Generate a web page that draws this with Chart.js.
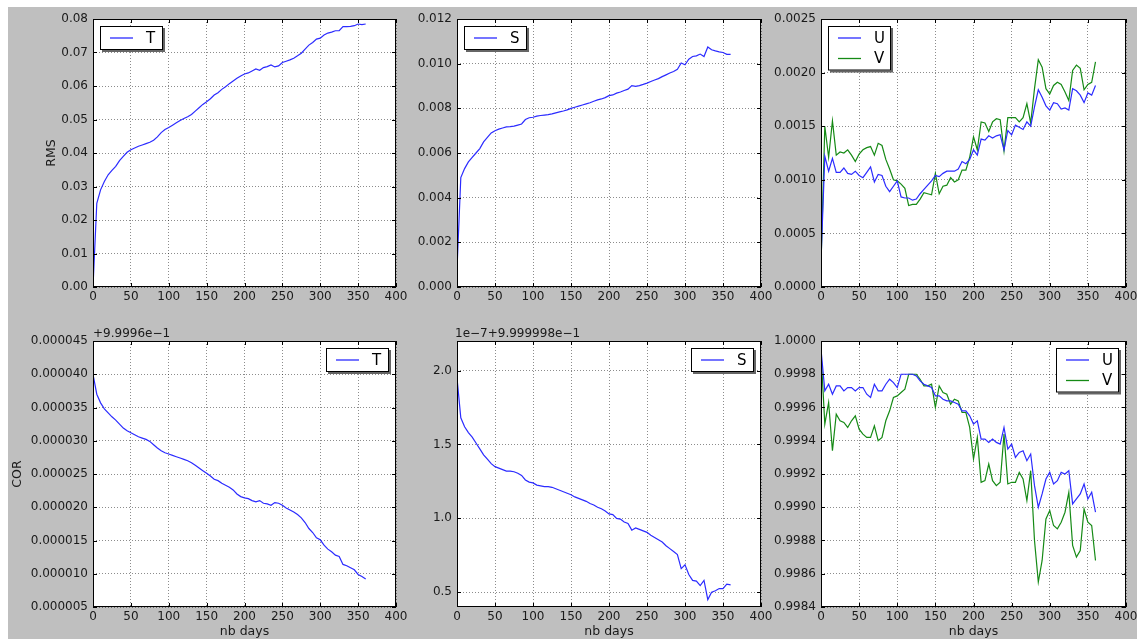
<!DOCTYPE html>
<html>
<head>
<meta charset="utf-8">
<script src="https://cdn.jsdelivr.net/npm/chart.js@4.4.1/dist/chart.umd.min.js"></script>
<style>
html, body { margin: 0; padding: 0; background: #fff; overflow: hidden; width: 1137px; height: 639px; }
#bg { position: absolute; left: 8px; top: 7px; width: 1129px; height: 632px; background: #bfbfbf; }
canvas { position: absolute; }
</style>
</head>
<body>
<div id="bg"></div>
<canvas id="p1"></canvas>
<canvas id="p2"></canvas>
<canvas id="p3"></canvas>
<canvas id="p4"></canvas>
<canvas id="p5"></canvas>
<canvas id="p6"></canvas>
<script>
// jours (un point tous les 5 jours)
const days = [0, 5, 10, 15, 20, 25, 30, 35, 40, 45, 50, 55, 60, 65, 70, 75, 80, 85, 90, 95,
  100, 105, 110, 115, 120, 125, 130, 135, 140, 145, 150, 155, 160, 165, 170, 175, 180, 185, 190, 195,
  200, 205, 210, 215, 220, 225, 230, 235, 240, 245, 250, 255, 260, 265, 270, 275, 280, 285, 290, 295,
  300, 305, 310, 315, 320, 325, 330, 335, 340, 345, 350, 355, 360];

// RMS
const rmsT = [0, 0.025, 0.029, 0.0315, 0.0335, 0.0348, 0.036, 0.0377, 0.039, 0.0402,
  0.041, 0.0415, 0.042, 0.0424, 0.0428, 0.0432, 0.0438, 0.0448, 0.0461, 0.047,
  0.0476, 0.0483, 0.049, 0.0497, 0.0503, 0.0508, 0.0515, 0.0525, 0.0535, 0.0545,
  0.0553, 0.0562, 0.0573, 0.058, 0.059, 0.0598, 0.0607, 0.0615, 0.0623, 0.063,
  0.0636, 0.0639, 0.0645, 0.0651, 0.0647, 0.0655, 0.0658, 0.0663, 0.0657, 0.066,
  0.067, 0.0674, 0.0678, 0.0683, 0.069, 0.0698, 0.071, 0.0722, 0.073, 0.074,
  0.0743, 0.0752, 0.0758, 0.0761, 0.0765, 0.0765, 0.0777, 0.0777, 0.0778, 0.078,
  0.0785, 0.0783, 0.0785];
const rmsS = [0.0008, 0.0049, 0.0053, 0.0056, 0.0058, 0.0060, 0.0062, 0.0065, 0.0067, 0.0069,
  0.00700, 0.00707, 0.00712, 0.00717, 0.00718, 0.00720, 0.00725, 0.00730, 0.00750, 0.00758,
  0.00760, 0.00765, 0.00768, 0.00770, 0.00772, 0.00775, 0.00780, 0.00784, 0.00788, 0.00793,
  0.00800, 0.00805, 0.00810, 0.00815, 0.00820, 0.00825, 0.00832, 0.00838, 0.00842, 0.00848,
  0.00857, 0.00860, 0.00868, 0.00873, 0.00880, 0.00886, 0.00902, 0.00898, 0.00902, 0.00907,
  0.00913, 0.00920, 0.00927, 0.00933, 0.00942, 0.00950, 0.00958, 0.00965, 0.00975, 0.01003,
  0.00995, 0.01020, 0.01032, 0.01035, 0.01043, 0.01032, 0.01075, 0.01062, 0.01057, 0.01053,
  0.01050, 0.01042, 0.01042];
const rmsU = [0.00025, 0.00122, 0.00108, 0.00120, 0.00107, 0.00107, 0.00111, 0.00106, 0.00105, 0.00108,
  0.00104, 0.00102, 0.00107, 0.00112, 0.00098, 0.00105, 0.00104, 0.00094, 0.00089, 0.00094,
  0.00099, 0.00084, 0.00083, 0.00083, 0.00081, 0.00082, 0.00087, 0.00091, 0.00095, 0.00099,
  0.00104, 0.00103, 0.00106, 0.00108, 0.00108, 0.00108, 0.00110, 0.00117, 0.00115, 0.00119,
  0.00128, 0.00123, 0.00138, 0.00137, 0.00141, 0.00139, 0.00141, 0.00142, 0.00128, 0.00146,
  0.00142, 0.00151, 0.00149, 0.00147, 0.00154, 0.00150, 0.00168, 0.00184, 0.00177, 0.00169,
  0.00165, 0.00172, 0.00171, 0.00166, 0.00167, 0.00165, 0.00185, 0.00183, 0.00179, 0.00172,
  0.00181, 0.00179, 0.00188];
const rmsV = [0.00020, 0.00150, 0.00121, 0.00155, 0.00123, 0.00126, 0.00125, 0.00128, 0.00123, 0.00117,
  0.00124, 0.00128, 0.00130, 0.00131, 0.00123, 0.00134, 0.00132, 0.00119, 0.00110, 0.00100,
  0.00099, 0.00096, 0.00092, 0.00076, 0.00077, 0.00077, 0.00082, 0.00088, 0.00087, 0.00086,
  0.00106, 0.00087, 0.00094, 0.00095, 0.00102, 0.00098, 0.00100, 0.00109, 0.00109, 0.00121,
  0.00140, 0.00128, 0.00154, 0.00153, 0.00145, 0.00154, 0.00157, 0.00156, 0.00127, 0.00158,
  0.00158, 0.00158, 0.00154, 0.00158, 0.00171, 0.00153, 0.00185, 0.00212, 0.00205, 0.00185,
  0.00180, 0.00188, 0.00191, 0.00189, 0.00182, 0.00174, 0.00202, 0.00207, 0.00204, 0.00184,
  0.00189, 0.00191, 0.00210];

// COR (T : ecart a 9.9996e-1 ; S : en 1e-7 au-dessus de 9.999998e-1)
const corT = [40.0e-6, 37.0e-6, 35.7e-6, 34.8e-6, 34.2e-6, 33.6e-6, 33.1e-6, 32.5e-6, 31.9e-6, 31.5e-6,
  31.2e-6, 30.9e-6, 30.6e-6, 30.4e-6, 30.2e-6, 29.9e-6, 29.4e-6, 28.9e-6, 28.5e-6, 28.2e-6,
  28.0e-6, 27.8e-6, 27.6e-6, 27.4e-6, 27.2e-6, 27.0e-6, 26.7e-6, 26.3e-6, 25.9e-6, 25.5e-6,
  25.1e-6, 24.7e-6, 24.2e-6, 24.0e-6, 23.6e-6, 23.3e-6, 23.0e-6, 22.6e-6, 22.0e-6, 21.6e-6,
  21.4e-6, 21.3e-6, 21.0e-6, 20.8e-6, 21.0e-6, 20.6e-6, 20.5e-6, 20.3e-6, 20.7e-6, 20.6e-6,
  20.3e-6, 19.9e-6, 19.6e-6, 19.3e-6, 18.9e-6, 18.4e-6, 17.7e-6, 16.8e-6, 16.2e-6, 15.4e-6,
  15.1e-6, 14.3e-6, 13.7e-6, 13.3e-6, 12.8e-6, 12.6e-6, 11.4e-6, 11.2e-6, 10.9e-6, 10.6e-6,
  9.9e-6, 9.6e-6, 9.2e-6];
const corS = [1.95, 1.68, 1.62, 1.58, 1.55, 1.51, 1.47, 1.43, 1.40, 1.37,
  1.35, 1.34, 1.33, 1.32, 1.32, 1.315, 1.305, 1.29, 1.26, 1.245,
  1.24, 1.225, 1.22, 1.215, 1.215, 1.21, 1.20, 1.19, 1.18, 1.17,
  1.16, 1.145, 1.135, 1.125, 1.115, 1.10, 1.09, 1.075, 1.065, 1.05,
  1.03, 1.025, 1.00, 0.995, 0.975, 0.965, 0.92, 0.935, 0.925, 0.915,
  0.905, 0.885, 0.87, 0.855, 0.84, 0.815, 0.795, 0.775, 0.755, 0.66,
  0.685, 0.62, 0.58, 0.575, 0.545, 0.58, 0.45, 0.50, 0.51, 0.525,
  0.525, 0.555, 0.55];
const corU = [0.99995, 0.99970, 0.99974, 0.99968, 0.99973, 0.99973, 0.99970, 0.99972, 0.99972, 0.99970,
  0.99972, 0.99972, 0.99968, 0.99966, 0.99974, 0.99970, 0.99970, 0.99974, 0.99977, 0.99975,
  0.99972, 0.99980, 0.99980, 0.99980, 0.99980, 0.99979, 0.99976, 0.99974, 0.99973, 0.99972,
  0.99967, 0.99967, 0.99965, 0.99964, 0.99964, 0.99963, 0.99962, 0.99958, 0.99958, 0.99955,
  0.99950, 0.99952, 0.99941, 0.99941, 0.99939, 0.99941, 0.99939, 0.99938, 0.99948, 0.99935,
  0.99938, 0.99930, 0.99933, 0.99934, 0.99928, 0.99932, 0.99913, 0.99900, 0.99908, 0.99917,
  0.99921, 0.99914, 0.99916, 0.99921, 0.99920, 0.99922, 0.99902, 0.99905, 0.99908, 0.99914,
  0.99905, 0.99909, 0.99897];
const corV = [0.99993, 0.99950, 0.99963, 0.99934, 0.99956, 0.99952, 0.99951, 0.99948, 0.99952, 0.99955,
  0.99947, 0.99944, 0.99942, 0.99942, 0.99949, 0.99940, 0.99942, 0.99952, 0.99958, 0.99966,
  0.99967, 0.99969, 0.99971, 0.99980, 0.99980, 0.99980, 0.99977, 0.99973, 0.99973, 0.99974,
  0.99960, 0.99973, 0.99969, 0.99968, 0.99962, 0.99965, 0.99964, 0.99957, 0.99957, 0.99948,
  0.99929, 0.99942, 0.99915, 0.99916, 0.99926, 0.99916, 0.99913, 0.99915, 0.99944, 0.99914,
  0.99915, 0.99915, 0.99921, 0.99917, 0.99904, 0.99922, 0.99880, 0.99855, 0.99868, 0.99893,
  0.99898, 0.99889, 0.99887, 0.99891, 0.99897, 0.99909, 0.99877, 0.99870, 0.99874, 0.99899,
  0.99891, 0.99889, 0.99868];

// graduations
const xTicks = [0, 50, 100, 150, 200, 250, 300, 350, 400];
const rmsTTicks = [0, 0.01, 0.02, 0.03, 0.04, 0.05, 0.06, 0.07, 0.08];
const rmsSTicks = [0, 0.002, 0.004, 0.006, 0.008, 0.010, 0.012];
const rmsUVTicks = [0, 0.0005, 0.0010, 0.0015, 0.0020, 0.0025];
const corTTicks = [5e-6, 10e-6, 15e-6, 20e-6, 25e-6, 30e-6, 35e-6, 40e-6, 45e-6];
const corSTicks = [0.5, 1.0, 1.5, 2.0];
const corUVTicks = [0.9984, 0.9986, 0.9988, 0.9990, 0.9992, 0.9994, 0.9996, 0.9998, 1.0000];

const BLUE = '#2b2bff';
const GREEN = '#158a15';

Chart.defaults.font.family = 'DejaVu Sans';
Chart.defaults.font.size = 12;
Chart.defaults.color = '#1a1a1a';

// geometrie des panneaux (zone de trace)
const COLS = [[93, 396], [457, 761], [821, 1126]];
const ROWS = [[19, 287], [341, 607]];
const Y_W = 90, PAD_R = 20, PAD_T = 15, X_H = [25, 32];

// fond blanc + cadre noir + petites graduations vers l'interieur
const framePlugin = {
    id: 'frame',
    beforeDraw(chart) {
        const {ctx, chartArea: a} = chart;
        ctx.save();
        ctx.fillStyle = '#fff';
        ctx.fillRect(a.left, a.top, a.right - a.left, a.bottom - a.top);
        ctx.restore();
    },
    afterDraw(chart) {
        const {ctx, chartArea: a, scales} = chart;
        ctx.save();
        ctx.strokeStyle = '#000';
        ctx.lineWidth = 1;
        ctx.beginPath();
        scales.x.ticks.forEach(t => {
            const px = Math.round(scales.x.getPixelForValue(t.value)) + 0.5;
            ctx.moveTo(px, a.bottom); ctx.lineTo(px, a.bottom - 4);
            ctx.moveTo(px, a.top); ctx.lineTo(px, a.top + 4);
        });
        scales.y.ticks.forEach(t => {
            const py = Math.round(scales.y.getPixelForValue(t.value)) + 0.5;
            ctx.moveTo(a.left, py); ctx.lineTo(a.left + 4, py);
            ctx.moveTo(a.right, py); ctx.lineTo(a.right - 4, py);
        });
        ctx.stroke();
        ctx.strokeRect(Math.round(a.left) + 0.5, Math.round(a.top) + 0.5,
            Math.round(a.right - a.left) - 1, Math.round(a.bottom - a.top) - 1);
        ctx.restore();
    }
};

// legende facon matplotlib (boite avec ombre)
const legendPlugin = {
    id: 'mplLegend',
    afterDraw(chart, args, opts) {
        const {ctx, chartArea: a} = chart;
        const ds = chart.data.datasets;
        const w = 63, h = 24 + 20.5 * (ds.length - 1);
        const left = Math.round(opts.align === 'left' ? a.left + 7 : a.right - 7 - w);
        const top = Math.round(a.top + 7);
        ctx.save();
        ctx.fillStyle = '#666';
        ctx.fillRect(left + 2, top + 2, w, h);
        ctx.fillStyle = '#fff';
        ctx.fillRect(left, top, w, h);
        ctx.strokeStyle = '#000';
        ctx.lineWidth = 1;
        ctx.strokeRect(left + 0.5, top + 0.5, w - 1, h - 1);
        ds.forEach((d, i) => {
            const y = top + 12 + 20.5 * i;
            ctx.strokeStyle = d.borderColor;
            ctx.lineWidth = 1.3;
            ctx.beginPath();
            ctx.moveTo(left + 10, y);
            ctx.lineTo(left + 33, y);
            ctx.stroke();
            ctx.fillStyle = '#000';
            ctx.font = '15px "DejaVu Sans"';
            ctx.textBaseline = 'middle';
            ctx.fillText(d.label, left + 46, y + 1);
        });
        ctx.restore();
    }
};

// texte de decalage au-dessus de l'axe y
const offsetPlugin = {
    id: 'offsetText',
    afterDraw(chart, args, opts) {
        if (!opts.text) return;
        const {ctx, chartArea: a} = chart;
        ctx.save();
        ctx.fillStyle = '#1a1a1a';
        ctx.font = '12px "DejaVu Sans"';
        ctx.textBaseline = 'alphabetic';
        ctx.fillText(opts.text, a.left + opts.dx, a.top - 4);
        ctx.restore();
    }
};

function makePanel(id, col, row, cfg) {
    const canvas = document.getElementById(id);
    const [l, r] = COLS[col], [t, b] = ROWS[row];
    const w = r - l + Y_W + PAD_R, h = b - t + PAD_T + X_H[row];
    canvas.width = w; canvas.height = h;
    canvas.style.width = w + 'px'; canvas.style.height = h + 'px';
    canvas.style.left = (l - Y_W) + 'px';
    canvas.style.top = (t - PAD_T) + 'px';

    const datasets = cfg.series.map(s => ({
        label: s.label,
        data: days.map((d, i) => ({x: d, y: s.values[i]})),
        borderColor: s.color,
        borderWidth: 1.2,
        pointRadius: 0,
        tension: 0,
        fill: false
    }));

    new Chart(canvas.getContext('2d'), {
        type: 'line',
        data: {datasets},
        options: {
            responsive: false,
            animation: false,
            events: [],
            layout: {padding: {top: PAD_T, right: PAD_R, left: 0, bottom: 0}},
            plugins: {
                legend: {display: false},
                tooltip: {enabled: false},
                mplLegend: {align: cfg.legend},
                offsetText: {text: cfg.offset || '', dx: cfg.offsetDx || 0}
            },
            scales: {
                x: {
                    type: 'linear',
                    min: 0, max: 400,
                    afterBuildTicks: s => { s.ticks = xTicks.map(v => ({value: v})); },
                    afterFit: s => { s.height = X_H[row]; },
                    grid: {color: 'rgba(0,0,0,0.45)', lineWidth: 1, drawTicks: false},
                    border: {display: false, dash: [1, 2]},
                    ticks: {padding: 3, maxRotation: 0, autoSkip: false, callback: v => String(v)},
                    title: {display: row === 1, text: 'nb days', font: {size: 12.5}, padding: {top: 0, bottom: 0}}
                },
                y: {
                    min: cfg.min, max: cfg.max,
                    afterBuildTicks: s => { s.ticks = cfg.ticks.map(v => ({value: v})); },
                    afterFit: s => { s.width = Y_W; },
                    grid: {color: 'rgba(0,0,0,0.45)', lineWidth: 1, drawTicks: false},
                    border: {display: false, dash: [1, 2]},
                    ticks: {padding: 5, autoSkip: false, callback: v => v.toFixed(cfg.dec)},
                    title: {display: !!cfg.yTitle, text: cfg.yTitle || '', font: {size: 12.5},
                        padding: {top: cfg.yTitlePad || 0, bottom: 0}}
                }
            }
        },
        plugins: [framePlugin, legendPlugin, offsetPlugin]
    });
}

makePanel('p1', 0, 0, {series: [{label: 'T', values: rmsT, color: BLUE}],
    min: 0, max: 0.08, ticks: rmsTTicks, dec: 2, legend: 'left', yTitle: 'RMS', yTitlePad: 41.5});
makePanel('p2', 1, 0, {series: [{label: 'S', values: rmsS, color: BLUE}],
    min: 0, max: 0.012, ticks: rmsSTicks, dec: 3, legend: 'left'});
makePanel('p3', 2, 0, {series: [{label: 'U', values: rmsU, color: BLUE}, {label: 'V', values: rmsV, color: GREEN}],
    min: 0, max: 0.0025, ticks: rmsUVTicks, dec: 4, legend: 'left'});
makePanel('p4', 0, 1, {series: [{label: 'T', values: corT, color: BLUE}],
    min: 5e-6, max: 45e-6, ticks: corTTicks, dec: 6, legend: 'right', yTitle: 'COR', yTitlePad: 7.5,
    offset: '+9.9996e\u22121', offsetDx: 0});
makePanel('p5', 1, 1, {series: [{label: 'S', values: corS, color: BLUE}],
    min: 0.4, max: 2.2, ticks: corSTicks, dec: 1, legend: 'right',
    offset: '1e\u22127+9.999998e\u22121', offsetDx: -2});
makePanel('p6', 2, 1, {series: [{label: 'U', values: corU, color: BLUE}, {label: 'V', values: corV, color: GREEN}],
    min: 0.9984, max: 1.0, ticks: corUVTicks, dec: 4, legend: 'right'});
</script>
</body>
</html>
